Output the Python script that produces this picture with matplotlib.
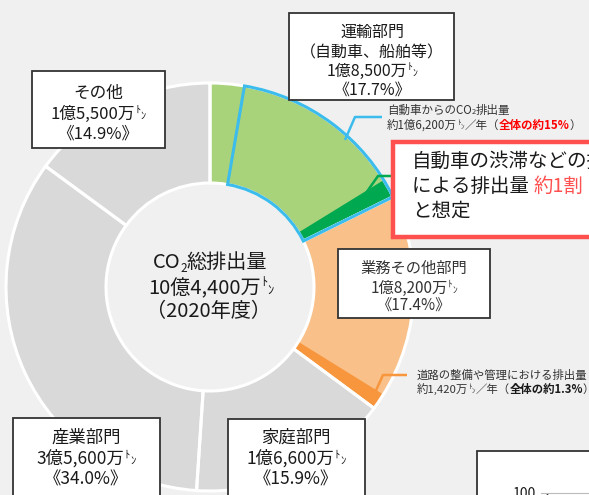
import matplotlib.pyplot as plt
from matplotlib.patches import Rectangle

W, H = 589, 495
plt.rcParams['font.family'] = ['Noto Sans CJK JP', 'DejaVu Sans']

# CO2 emissions by sector (FY2020), clockwise from 12 o'clock
sector_names = ['運輸部門', '業務その他部門', '家庭部門', '産業部門', 'その他']
sector_share = [17.7, 17.4, 15.9, 34.0, 14.9]   # % of total
sector_amount = ['1億8,500万', '1億8,200万', '1億6,600万', '3億5,600万', '1億5,500万']
total_amount = '10億4,400万'
car_share = 15.0      # 自動車 (part of 運輸部門)
jam_ratio = 0.1       # congestion etc. = about 1/10 of car emissions
road_share = 1.3      # road building / maintenance (part of 業務その他部門)

GREEN, GREEN_D = '#a9d37b', '#00a850'
ORANGE, ORANGE_D = '#f9c08a', '#f7963c'
GREY = '#d9d9d9'
BLUE = '#3bbcec'
RED = '#ff5050'
INK = '#1a1a1a'
sector_colors = [GREEN, ORANGE, GREY, GREY, GREY]

fig = plt.figure(figsize=(W / 100, H / 100), dpi=100, facecolor='#f0f0f0')
ax = fig.add_axes([0, 0, 1, 1])
renderer = fig.canvas.get_renderer()

center = (210, H - 287)
R, ring = 204, 100
total = sum(sector_share)
common = dict(startangle=90, counterclock=False, center=center, radius=R)

# main ring
ax.pie(sector_share, colors=sector_colors,
       wedgeprops=dict(width=ring, linewidth=0), **common)

# darker sub-slices: congestion (green) and roads (orange)
jam = car_share * jam_ratio
inner = [sector_share[0] - jam, jam, sector_share[1] - road_share, road_share]
inner.append(total - sum(inner))
ax.pie(inner, colors=['none', GREEN_D, 'none', ORANGE_D, 'none'],
       wedgeprops=dict(width=ring, linewidth=0), **common)

# white separators between sectors
ax.pie(sector_share, colors=['none'] * 5,
       wedgeprops=dict(width=ring, edgecolor='white', linewidth=2.2), **common)

# blue outline around the car share
car = [sector_share[0] - car_share, car_share, total - sector_share[0]]
wedges, _ = ax.pie(car, colors=['none'] * 3,
                   wedgeprops=dict(width=ring, linewidth=0), **common)
wedges[1].set_edgecolor(BLUE)
wedges[1].set_linewidth(2.2)

ax.set_xlim(0, W)
ax.set_ylim(0, H)
ax.set_aspect('auto')
ax.axis('off')


def rich(x, y, parts, ha='center'):
    # parts: (text, size, raise_px, color, weight); y is the baseline, from the top
    items = []
    for s, size, dy, color, weight in parts:
        t = ax.text(0, 0, s, fontsize=size, color=color, fontweight=weight,
                    va='baseline', ha='left', zorder=5)
        items.append((t, t.get_window_extent(renderer).width, dy))
    width = sum(w for _, w, _ in items)
    cx = x - width / 2 if ha == 'center' else x
    for t, w, dy in items:
        t.set_position((cx, H - y + dy))
        cx += w


def plain(x, y, s, size, color=INK, weight='normal', ha='center'):
    rich(x, y, [(s, size, 0, color, weight)], ha=ha)


def tons(x, y, amount, size, color=INK, weight='normal', tail=None, ha='center'):
    em = size * 100 / 72
    parts = [(amount, size, 0, color, weight),
             ('ﾄ', size * 0.62, em * 0.38, color, weight),
             ('ﾝ', size * 0.62, em * 0.0, color, weight)]
    if tail:
        parts += tail
    rich(x, y, parts, ha=ha)


def box(x0, y0, x1, y1, ec='#333333', lw=1.3):
    ax.add_patch(Rectangle((x0, H - y1), x1 - x0, y1 - y0, facecolor='white',
                           edgecolor=ec, linewidth=lw, zorder=3))


def leader(xs, ys, color):
    ax.plot(xs, [H - y for y in ys], color=color, lw=1.8, zorder=2.5,
            solid_capstyle='butt')


def pct(v):
    return f'《{v:.1f}%》'


# centre of the ring
rich(210, 268, [('CO', 14.5, 0, INK, 'normal'), ('2', 8.5, -4, INK, 'normal'),
                ('総排出量', 14.5, 0, INK, 'normal')])
tons(211, 294, total_amount, 14.5)
plain(208, 317, '（2020年度）', 14.5)

# 運輸部門
box(289, 13, 454, 100)
plain(372, 37, sector_names[0], 11.5)
plain(372, 57, '（自動車、船舶等）', 11.5)
tons(372, 76, sector_amount[0], 11.5)
plain(372, 95, pct(sector_share[0]), 11.5)

# その他
box(32, 71, 165, 148)
plain(98, 98, sector_names[4], 12)
tons(98, 119, sector_amount[4], 12)
plain(98, 139, pct(sector_share[4]), 12)

# 業務その他部門
box(338, 249, 490, 318)
plain(414, 273, sector_names[1], 11, color='#333333')
tons(414, 293, sector_amount[1], 11, color='#333333')
plain(414, 311, pct(sector_share[1]), 11, color='#333333')

# 産業部門 / 家庭部門 (boxes run off the bottom)
box(13, 418, 160, 530)
plain(86, 443, sector_names[3], 12.5)
tons(86, 464, sector_amount[3], 12.5)
plain(86, 485, pct(sector_share[3]), 12.5)

box(228, 419, 365, 530)
plain(296, 443, sector_names[2], 12.5)
tons(296, 464, sector_amount[2], 12.5)
plain(296, 485, pct(sector_share[2]), 12.5)

# car emissions note
leader([345, 355, 382], [140, 117, 117], BLUE)
rich(387, 114, [('自動車からのCO', 8.3, 0, '#333333', 'normal'),
                ('2', 5.5, 0, '#333333', 'normal'),
                ('排出量', 8.3, 0, '#333333', 'normal')], ha='left')
tons(387, 129, '約1億6,200万', 8.3, color='#333333', ha='left',
     tail=[('／年（', 8.3, 0, '#333333', 'normal'),
           (f'全体の約{car_share:.0f}%', 8.3, 0, '#ff0000', 'bold'),
           ('）', 8.3, 0, '#333333', 'normal')])

# road note
leader([373, 383, 407], [397, 375, 375], ORANGE_D)
plain(417, 379, '道路の整備や管理における排出量', 8.2, color='#333333', ha='left')
tons(417, 393, '約1,420万', 8.2, color='#333333', ha='left',
     tail=[('／年（', 8.2, 0, '#333333', 'normal'),
           (f'全体の約{road_share}%', 8.2, 0, INK, 'bold'),
           ('）', 8.2, 0, '#333333', 'normal')])

# congestion call-out
leader([366, 378, 394], [193, 176, 176], GREEN_D)
box(393, 142, 640, 237, ec=RED, lw=3.2)
plain(412, 167, '自動車の渋滞などの排出ガス', 14, ha='left')
rich(412, 192, [('による排出量 ', 14, 0, INK, 'normal'),
                (f'約{jam_ratio * 10:.0f}割', 14, 0, RED, 'normal'),
                (' （', 14, 0, INK, 'normal')], ha='left')
plain(412, 217, 'と想定', 14, ha='left')

# corner of the next chart
box(477, 451, 640, 540)
ax.text(524, H - 494, '100', fontsize=10, color=INK, ha='center', va='center',
        zorder=5)
ax.plot([541, 589], [H - 493, H - 493], color='#bbbbbb', lw=0.8, zorder=4)
ax.plot([547], [H - 498], marker='^', color=INK, markersize=6, zorder=5)

fig.savefig('out.png', dpi=100, facecolor=fig.get_facecolor())
